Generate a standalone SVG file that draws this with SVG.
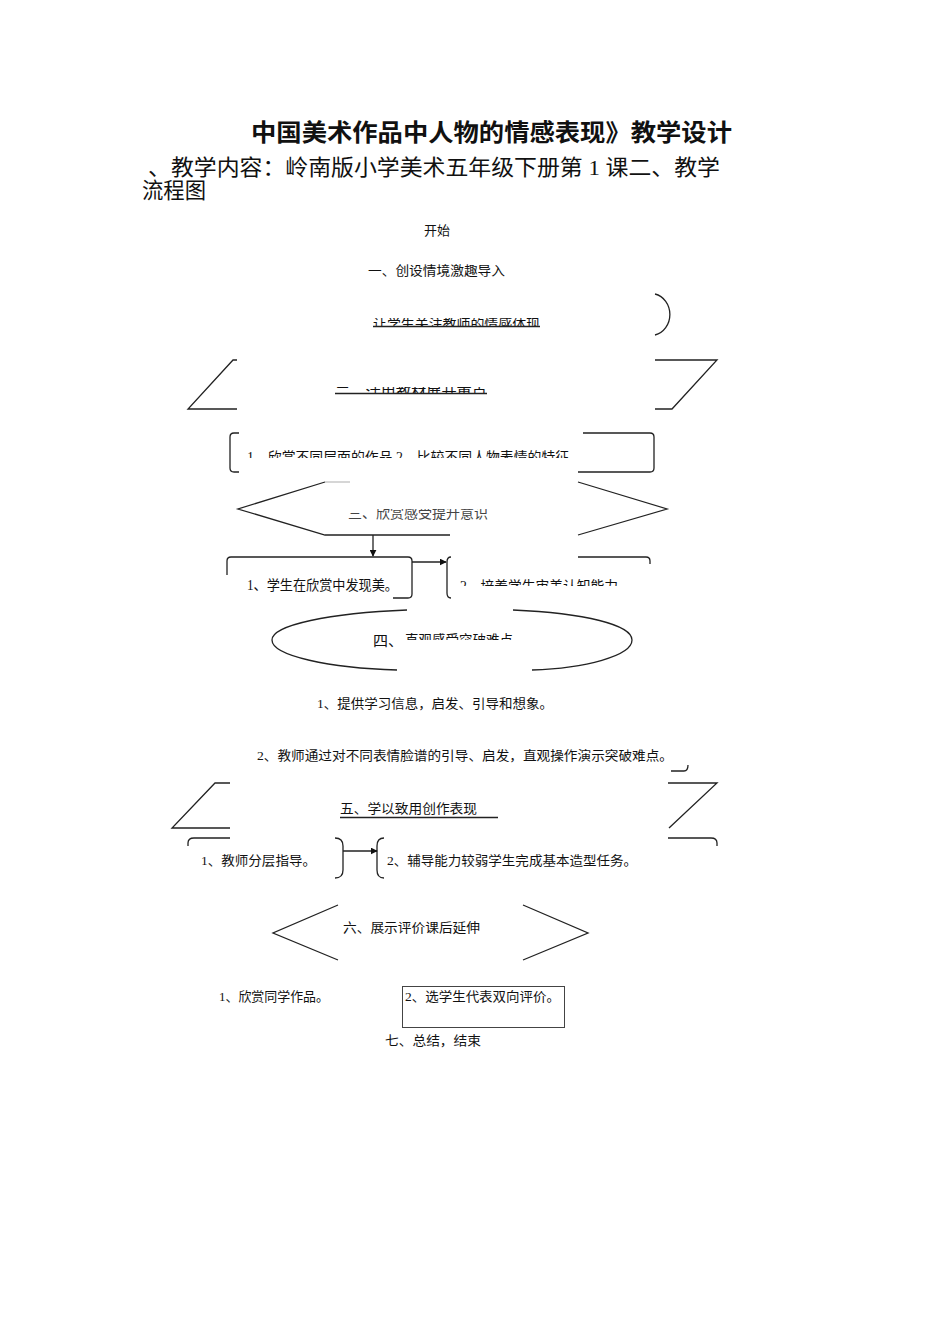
<svg xmlns="http://www.w3.org/2000/svg" width="950" height="1344" viewBox="0 0 950 1344">
<style>
.ln{fill:none;stroke:#222;stroke-width:1.3}
.lt{fill:none;stroke:#bbb;stroke-width:1.2}
.t{font-family:"Liberation Serif","Noto Sans CJK SC",serif;font-size:13px;fill:#111}
.h{font-family:"Liberation Sans","Noto Sans CJK SC",sans-serif;font-size:24px;font-weight:bold;fill:#111}
.b{font-family:"Liberation Serif","Noto Sans CJK SC",serif;font-size:22px;fill:#111}
</style>
<defs>
<marker id="ah" viewBox="0 0 10 10" refX="9" refY="5" markerWidth="7" markerHeight="7" orient="auto" markerUnits="userSpaceOnUse">
<path d="M0,0 L10,5 L0,10 z" fill="#111"/>
</marker>
<clipPath id="c1"><rect x="360" y="318" width="200" height="9"/></clipPath>
<clipPath id="c2"><rect x="320" y="387" width="200" height="7"/></clipPath>
<clipPath id="c3"><rect x="240" y="440" width="360" height="18"/></clipPath>
<clipPath id="c4"><rect x="340" y="509" width="170" height="13"/></clipPath>
<clipPath id="c5"><rect x="450" y="570" width="180" height="16"/></clipPath>
<clipPath id="c6"><rect x="400" y="625" width="130" height="15"/></clipPath>
</defs>

<g id="title">
<text class="h" x="251" y="141" textLength="481" lengthAdjust="spacingAndGlyphs">中国美术作品中人物的情感表现》教学设计</text>
<text class="b" x="148" y="175" textLength="572" lengthAdjust="spacingAndGlyphs">、教学内容：岭南版小学美术五年级下册第 1 课二、教学</text>
<text class="b" x="142" y="198" textLength="64" lengthAdjust="spacingAndGlyphs">流程图</text>
</g>

<g id="start">
<text class="t" x="424" y="235">开始</text>
</g>

<g id="step1">
<text class="t" x="368" y="275" textLength="137" lengthAdjust="spacingAndGlyphs">一、创设情境激趣导入</text>
<path class="ln" d="M655,294 A19,21 0 0 1 655,335"/>
<text class="t" style="font-size:14px" x="373" y="329" textLength="167" lengthAdjust="spacingAndGlyphs" clip-path="url(#c1)">让学生关注教师的情感体现</text>
<line class="ln" x1="373" y1="326.5" x2="540" y2="326.5" stroke-width="1"/>
</g>

<g id="step2">
<path class="ln" d="M237,360 L233,360 L188,409 L237,409"/>
<path class="ln" d="M655,360 L717,360 L672,409 L655,409"/>
<text class="t" style="font-size:15px" x="335" y="397" textLength="152" lengthAdjust="spacingAndGlyphs" clip-path="url(#c2)">二、活用教材展开重点</text>
<line class="ln" x1="335" y1="393.5" x2="487" y2="393.5" stroke-width="1"/>
</g>

<g id="step2-detail">
<path class="ln" d="M239,433 L234,433 Q230,433 230,437 L230,468 Q230,472 234,472 L239,472"/>
<path class="ln" d="M583,433 L650,433 Q654,433 654,437 L654,468 Q654,472 650,472 L578,472"/>
<text class="t" style="font-size:14px" x="247" y="462" textLength="336" lengthAdjust="spacingAndGlyphs" clip-path="url(#c3)">1、欣赏不同层面的作品 2、比较不同人物表情的特征。</text>
</g>

<g id="step3">
<path class="ln" d="M325,482 L238,509 L325,535 L450,535"/>
<path class="lt" d="M325,482 L350,482"/>
<path class="ln" d="M578,482 L667,509 L578,535"/>
<text class="t" style="font-size:14px;fill:#444" x="348" y="518" textLength="140" lengthAdjust="spacingAndGlyphs" clip-path="url(#c4)">三、欣赏感受提升意识</text>
</g>

<g id="step3-a">
<path class="ln" d="M227,575 L227,561 Q227,557 231,557 L408,557 Q412,557 412,561 L412,594 Q412,598 408,598 L393,598"/>
<text class="t" style="font-size:14px" x="247" y="590" textLength="151" lengthAdjust="spacingAndGlyphs">1、学生在欣赏中发现美。</text>
</g>

<g id="step3-b">
<path class="ln" d="M451,557 Q447,557 447,562 L447,593 Q447,598 451,598"/>
<path class="ln" d="M578,557 L646,557 Q650,557 650,561 L650,564"/>
<text class="t" style="font-size:14px" x="460" y="591" textLength="158" lengthAdjust="spacingAndGlyphs" clip-path="url(#c5)">2、培养学生审美认知能力</text>
</g>

<g id="step4">
<path class="ln" d="M407,610 C330,613 272,625 272,640 C272,656 330,668 397,670"/>
<path class="ln" d="M513,610 C585,613 632,625 632,640 C632,656 585,668 532,670"/>
<text class="t" style="font-size:15px" x="373" y="646">四、</text>
<text class="t" style="font-size:13.5px" x="405" y="645" textLength="108" lengthAdjust="spacingAndGlyphs" clip-path="url(#c6)">直观感受突破难点</text>
</g>

<g id="step4-a">
<text class="t" x="317" y="708" textLength="236" lengthAdjust="spacingAndGlyphs">1、提供学习信息，启发、引导和想象。</text>
</g>

<g id="step4-b">
<text class="t" x="257" y="760" textLength="416" lengthAdjust="spacingAndGlyphs">2、教师通过对不同表情脸谱的引导、启发，直观操作演示突破难点。</text>
<path class="ln" d="M671,771 L684,771 Q688,771 688,765"/>
</g>

<g id="step5">
<path class="ln" d="M230,783 L215,783 L172,828 L230,828"/>
<path class="ln" d="M668,783 L717,783 L669,828"/>
<text class="t" x="340" y="813" textLength="137" lengthAdjust="spacingAndGlyphs">五、学以致用创作表现</text>
<line class="ln" x1="340" y1="817.5" x2="498" y2="817.5" stroke-width="1"/>
</g>

<g id="step5-a">
<path class="ln" d="M188,846 L188,843 Q188,838 194,838 L230,838"/>
<path class="ln" d="M668,838 L711,838 Q717,838 717,843 L717,846"/>
<text class="t" x="201" y="865" textLength="115" lengthAdjust="spacingAndGlyphs">1、教师分层指导。</text>
<path class="ln" d="M335,838 Q343,838 343,846 L343,870 Q343,878 335,878"/>
</g>

<g id="step5-b">
<path class="ln" d="M384,838 Q377,838 377,846 L377,870 Q377,878 384,878"/>
<text class="t" x="387" y="865" textLength="250" lengthAdjust="spacingAndGlyphs">2、辅导能力较弱学生完成基本造型任务。</text>
</g>

<g id="step6">
<path class="ln" d="M338,905 L273,933 L338,960"/>
<path class="ln" d="M523,905 L588,933 L523,960"/>
<text class="t" x="343" y="932" textLength="137" lengthAdjust="spacingAndGlyphs">六、展示评价课后延伸</text>
</g>

<g id="step6-a">
<text class="t" x="219" y="1001" textLength="110" lengthAdjust="spacingAndGlyphs">1、欣赏同学作品。</text>
</g>

<g id="step6-b">
<rect x="402.5" y="986.5" width="162" height="41" fill="none" stroke="#444" stroke-width="1"/>
<text class="t" x="405" y="1001" textLength="155" lengthAdjust="spacingAndGlyphs">2、选学生代表双向评价。</text>
</g>

<g id="end">
<text class="t" x="385" y="1045" textLength="96" lengthAdjust="spacingAndGlyphs">七、总结，结束</text>
</g>

<g id="connectors">
<line class="ln" x1="373" y1="535" x2="373" y2="556" marker-end="url(#ah)"/>
<line class="ln" x1="412" y1="562" x2="446" y2="562" marker-end="url(#ah)"/>
<line class="ln" x1="343" y1="851" x2="377" y2="851" marker-end="url(#ah)"/>
</g>
</svg>
